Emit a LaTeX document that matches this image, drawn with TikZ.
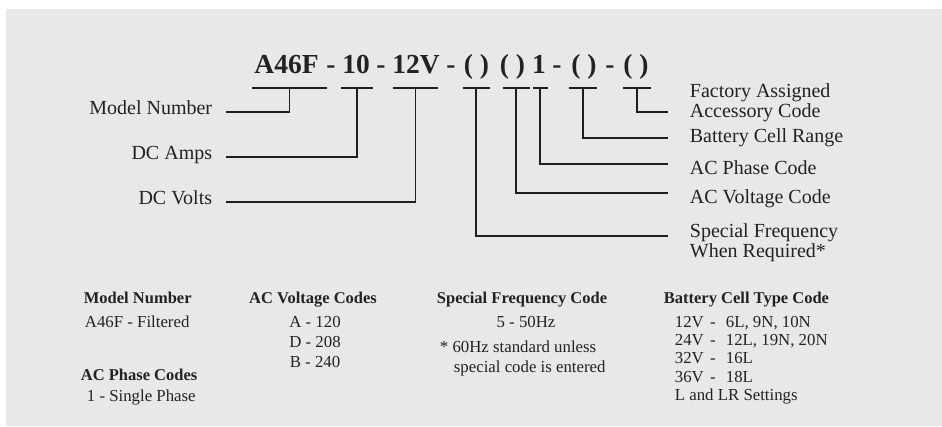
\documentclass[tikz,border=0pt]{standalone}
\usepackage{fontspec}
\setmainfont{Liberation Serif}
\definecolor{bg_gray}{RGB}{232,232,232}
\definecolor{ink}{RGB}{34,34,34}
\definecolor{line_dark}{RGB}{30,30,30}

\begin{document}
\begin{tikzpicture}[x=1pt,y=-1pt,line width=1.8pt]
    \tikzstyle{part}=[anchor=base,inner sep=0pt,text=ink,font=\fontsize{27.5}{30}\selectfont\bfseries]
    \tikzstyle{lbl}=[inner sep=0pt,text=ink,font=\fontsize{20}{22}\selectfont]
    \tikzstyle{llbl}=[style=lbl,anchor=mid east,inner xsep=13pt]
    \tikzstyle{rlbl}=[style=lbl,anchor=base west]
    \tikzstyle{head}=[anchor=base west,inner sep=0pt,text=ink,font=\fontsize{16.5}{20}\selectfont\bfseries]
    \tikzstyle{note}=[anchor=base west,inner sep=0pt,text=ink,font=\fontsize{16.8}{20}\selectfont]
    \tikzstyle{bar}=[draw=line_dark]
    \tikzstyle{elbow}=[draw=line_dark,to path={|- (\tikztotarget)}]

    \useasboundingbox (0,0) rectangle (942,426);
    \fill[bg_gray] (6,9) rectangle (942,426);

    % model code
    \node[part] (pmodel) at (286.5,73) {A46F};
    \node[part] (d1)     at (331,73)   {-};
    \node[part] (pamps)  at (356,73)   {10};
    \node[part] (d2)     at (381,73)   {-};
    \node[part] (pvolts) at (416,73)   {12V};
    \node[part] (d3)     at (451,73)   {-};
    \node[part] (pfreq)  at (476.5,73) {( )};
    \node[part] (pvac)   at (512.5,73) {( )};
    \node[part] (pphase) at (539,73)   {1};
    \node[part] (d4)     at (557,73)   {-};
    \node[part] (pcell)  at (584,73)   {( )};
    \node[part] (d5)     at (610,73)   {-};
    \node[part] (pacc)   at (636,73)   {( )};

    \foreach \n/\x/\w in {1/289.5/75, 2/357/32, 3/415.5/45, 4/476/27, 5/516/27, 6/540/15, 7/583/28, 8/637/28}{
      \coordinate (b\n) at (\x,88);
      \draw[bar] (\x-\w/2,88) -- (\x+\w/2,88);
    }

    % labels
    \node[llbl] (lmodel) at (226,112) {Model Number};
    \node[llbl] (lamps)  at (226,157) {DC Amps};
    \node[llbl] (lvolts) at (226,202) {DC Volts};

    \node[rlbl] (racc1)  at (689,97)  {Factory Assigned};
    \node[rlbl] (racc2)  at (689,117) {Accessory Code};
    \node[rlbl] (rcell)  at (689,142) {Battery Cell Range};
    \node[rlbl] (rphase) at (689,174) {AC Phase Code};
    \node[rlbl] (rvac)   at (689,203) {AC Voltage Code};
    \node[rlbl] (rfreq1) at (689,237) {Special Frequency};
    \node[rlbl] (rfreq2) at (689,257) {When Required*};

    \coordinate (e8) at (668,112);
    \coordinate (e7) at (668,138);
    \coordinate (e6) at (668,164);
    \coordinate (e5) at (668,193);
    \coordinate (e4) at (668,236);

    \path
     (b1) edge[elbow] (lmodel.mid east)
     (b2) edge[elbow] (lamps.mid east)
     (b3) edge[elbow] (lvolts.mid east)
     (b4) edge[elbow] (e4)
     (b5) edge[elbow] (e5)
     (b6) edge[elbow] (e6)
     (b7) edge[elbow] (e7)
     (b8) edge[elbow] (e8)
     ;

    % code tables
    \node[head] (hmodel) at (83,303) {Model Number};
    \node[note] (nmodel) at (84,327) {A46F - Filtered};
    \node[head] (hphase) at (80,380) {AC Phase Codes};
    \node[note] (nphase) at (86,401) {1 - Single Phase};

    \node[head,anchor=base] (hvac) at (313,303) {AC Voltage Codes};
    \foreach \c/\y in {A - 120/327, D - 208/347, B - 240/367}
      \node[note,anchor=base] (vac\y) at (315,\y) {\c};

    \node[head,anchor=base] (hfreq) at (522,303) {Special Frequency Code};
    \node[note,anchor=base] (nfreq) at (526,327) {5 - 50Hz};
    \node[note] (nstd1) at (439,352) {* 60Hz standard unless};
    \node[note] (nstd2) at (453,372) {special code is entered};

    \node[head] (hcell) at (663,303) {Battery Cell Type Code};
    \foreach \v/\c/\y in {12V/{6L, 9N, 10N}/327, 24V/{12L, 19N, 20N}/345, 32V/16L/363, 36V/18L/382}{
      \node[note] (cv\y) at (674,\y) {\v};
      \node[note,anchor=base] (cd\y) at (713,\y) {-};
      \node[note] (cc\y) at (725,\y) {\c};
    }
    \node[note] (nlr) at (674,400) {L and LR Settings};
\end{tikzpicture}
\end{document}
